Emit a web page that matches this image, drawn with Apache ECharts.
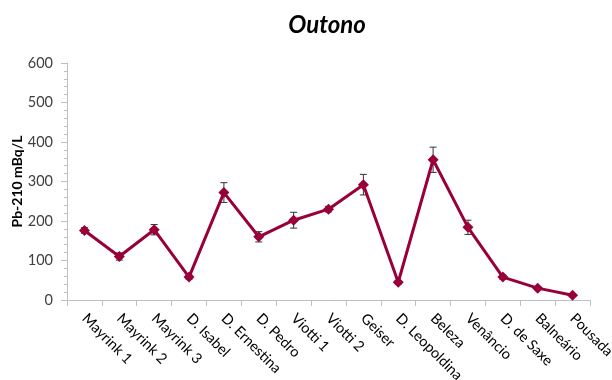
<!DOCTYPE html>
<html>
<head>
<meta charset="utf-8">
<script src="https://cdn.jsdelivr.net/npm/echarts@6/dist/echarts.min.js"></script>
<style>
  html, body { margin: 0; padding: 0; background: #fff; }
  #chart { width: 612px; height: 380px; }
</style>
</head>
<body>
<div id="chart"></div>
<script>
// Sampling sites
const sites = ['Mayrink 1', 'Mayrink 2', 'Mayrink 3', 'D. Isabel', 'D. Ernestina', 'D. Pedro',
  'Viotti 1', 'Viotti 2', 'Geiser', 'D. Leopoldina', 'Beleza', 'Venâncio', 'D. de Saxe',
  'Balneário', 'Pousada'];
// Pb-210 activity (mBq/L), autumn campaign
const pb210 = [176, 110, 178, 58, 272, 160, 202, 230, 292, 45, 355, 184, 58, 30, 12];
// Uncertainty (±)
const pb210Err = [7, 9, 13, 5, 25, 13, 20, 7, 26, 4, 32, 18, 5, 4, 3];
// Value axis ticks
const yTicks = [0, 100, 200, 300, 400, 500, 600];

const font = 'Lato, "Open Sans", sans-serif';
const lineColor = '#99003a';
const axisGray = '#bfbfbf';

const chart = echarts.init(document.getElementById('chart'), null, { renderer: 'canvas' });

chart.setOption({
  animation: false,
  title: {
    text: 'Outono',
    left: 322,
    top: 8,
    textAlign: 'center',
    textStyle: { fontFamily: font, fontSize: 24, fontWeight: 'bold', fontStyle: 'italic', color: '#000' }
  },
  grid: { left: 67, right: 22, top: 63, bottom: 80, containLabel: false, outerBoundsMode: 'none' },
  xAxis: {
    type: 'category',
    data: sites,
    boundaryGap: true,
    axisLine: { lineStyle: { color: axisGray, width: 1 } },
    axisTick: { show: true, length: 6, alignWithLabel: false, lineStyle: { color: axisGray } },
    axisLabel: {
      interval: 0,
      rotate: -45,
      margin: 16,
      fontFamily: font,
      fontSize: 14.5,
      color: '#000'
    }
  },
  yAxis: {
    type: 'value',
    min: yTicks[0],
    max: yTicks[yTicks.length - 1],
    interval: 100,
    name: 'Pb-210 mBq/L',
    nameLocation: 'middle',
    nameGap: 43,
    nameMoveOverlap: false,
    nameRotate: 90,
    nameTextStyle: { fontFamily: font, fontSize: 14, fontWeight: 'bold', color: '#000' },
    axisLine: { show: true, lineStyle: { color: axisGray, width: 1 } },
    axisTick: { show: true, length: 6, lineStyle: { color: axisGray } },
    minorTick: { show: true, splitNumber: 5, length: 3, lineStyle: { color: axisGray } },
    splitLine: { show: false },
    axisLabel: { fontFamily: font, fontSize: 14.5, color: '#404040', margin: 14 }
  },
  series: [
    {
      type: 'custom',
      name: 'err',
      z: 3,
      data: pb210.map((v, i) => [i, v - pb210Err[i], v + pb210Err[i]]),
      renderItem: function (params, api) {
        const x = api.value(0);
        const lo = api.coord([x, api.value(1)]);
        const hi = api.coord([x, api.value(2)]);
        const cap = 3.5;
        const style = { stroke: '#333', lineWidth: 1, fill: null };
        return {
          type: 'group',
          children: [
            { type: 'line', shape: { x1: lo[0], y1: lo[1], x2: hi[0], y2: hi[1] }, style },
            { type: 'line', shape: { x1: hi[0] - cap, y1: hi[1], x2: hi[0] + cap, y2: hi[1] }, style },
            { type: 'line', shape: { x1: lo[0] - cap, y1: lo[1], x2: lo[0] + cap, y2: lo[1] }, style }
          ]
        };
      }
    },
    {
      type: 'line',
      name: 'Pb-210',
      data: pb210,
      z: 4,
      symbol: 'diamond',
      symbolSize: 11,
      lineStyle: { color: lineColor, width: 3 },
      itemStyle: { color: lineColor }
    }
  ]
});
</script>
</body>
</html>
